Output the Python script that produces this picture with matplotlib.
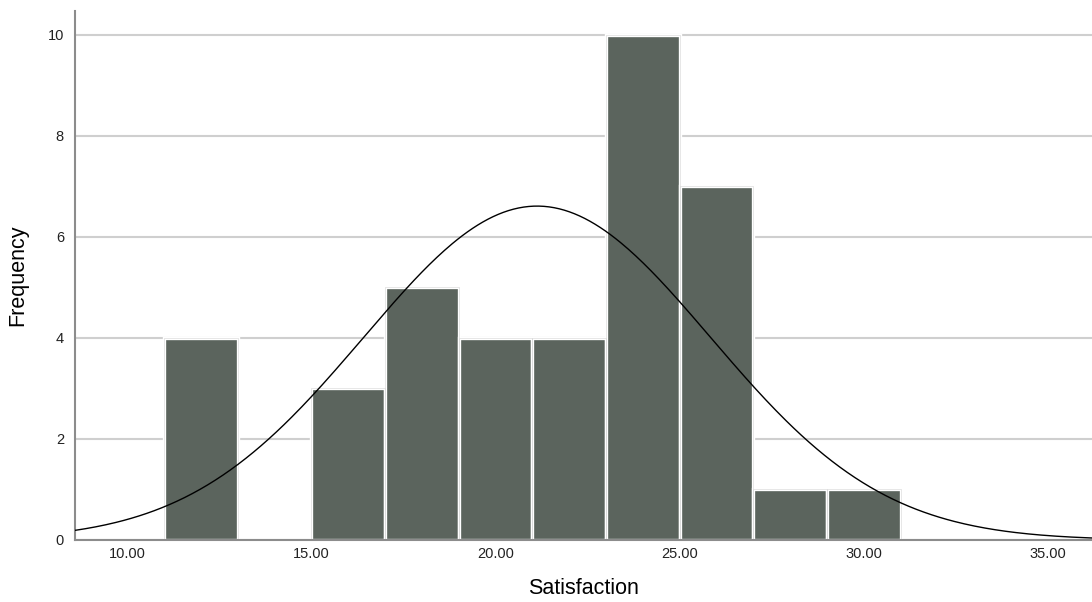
import numpy as np
import matplotlib.pyplot as plt

plt.rcParams['font.family'] = ['Liberation Sans', 'DejaVu Sans']

# histogram bins (left edges, width 2) and counts
bin_left = [11, 13, 15, 17, 19, 21, 23, 25, 27, 29]
counts = [4, 0, 3, 5, 4, 4, 10, 7, 1, 1]
bin_width = 2

# fitted normal curve parameters
mean_val = 21.13
sd_val = 4.71
n_total = sum(counts)

x_ticks = [10, 15, 20, 25, 30, 35]
y_ticks = [0, 2, 4, 6, 8, 10]

fig = plt.figure(figsize=(10.92, 6.02), dpi=100)
ax = fig.add_axes([0.0687, 0.103, 0.9313, 0.879])

ax.set_axisbelow(True)
ax.yaxis.grid(True, color='#cfcfcf', linewidth=1.5)

ax.bar(bin_left, counts, width=bin_width, align='edge', color='#5b645d',
       edgecolor='white', linewidth=2.4, zorder=2)
ax.bar(bin_left, counts, width=bin_width, align='edge', color='none',
       edgecolor='#d4d4d4', linewidth=0.4, zorder=2)

x_min, x_max = 8.59, 36.19
xs = np.linspace(x_min, x_max, 400)
ys = n_total * bin_width / (sd_val * np.sqrt(2 * np.pi)) * np.exp(-0.5 * ((xs - mean_val) / sd_val) ** 2)
ax.plot(xs, ys, color='black', linewidth=1.0, zorder=3)

ax.set_xlim(x_min, x_max)
ax.set_ylim(0, 10.47)
ax.set_xticks(x_ticks)
ax.set_xticklabels([f"{v:.2f}" for v in x_ticks])
ax.set_yticks(y_ticks)
ax.tick_params(axis='x', length=0, labelsize=10.5, colors='#222222', pad=5)
ax.tick_params(axis='y', length=0, labelsize=10.5, colors='#222222', pad=8)

for s in ['top', 'right']:
    ax.spines[s].set_visible(False)
for s in ['left', 'bottom']:
    ax.spines[s].set_color('#8c8c8c')
    ax.spines[s].set_linewidth(1.5)

ax.set_xlabel('Satisfaction', fontsize=15.5, labelpad=12)
ax.set_ylabel('Frequency', fontsize=15.5, labelpad=14)

fig.savefig('out.png', dpi=100)
